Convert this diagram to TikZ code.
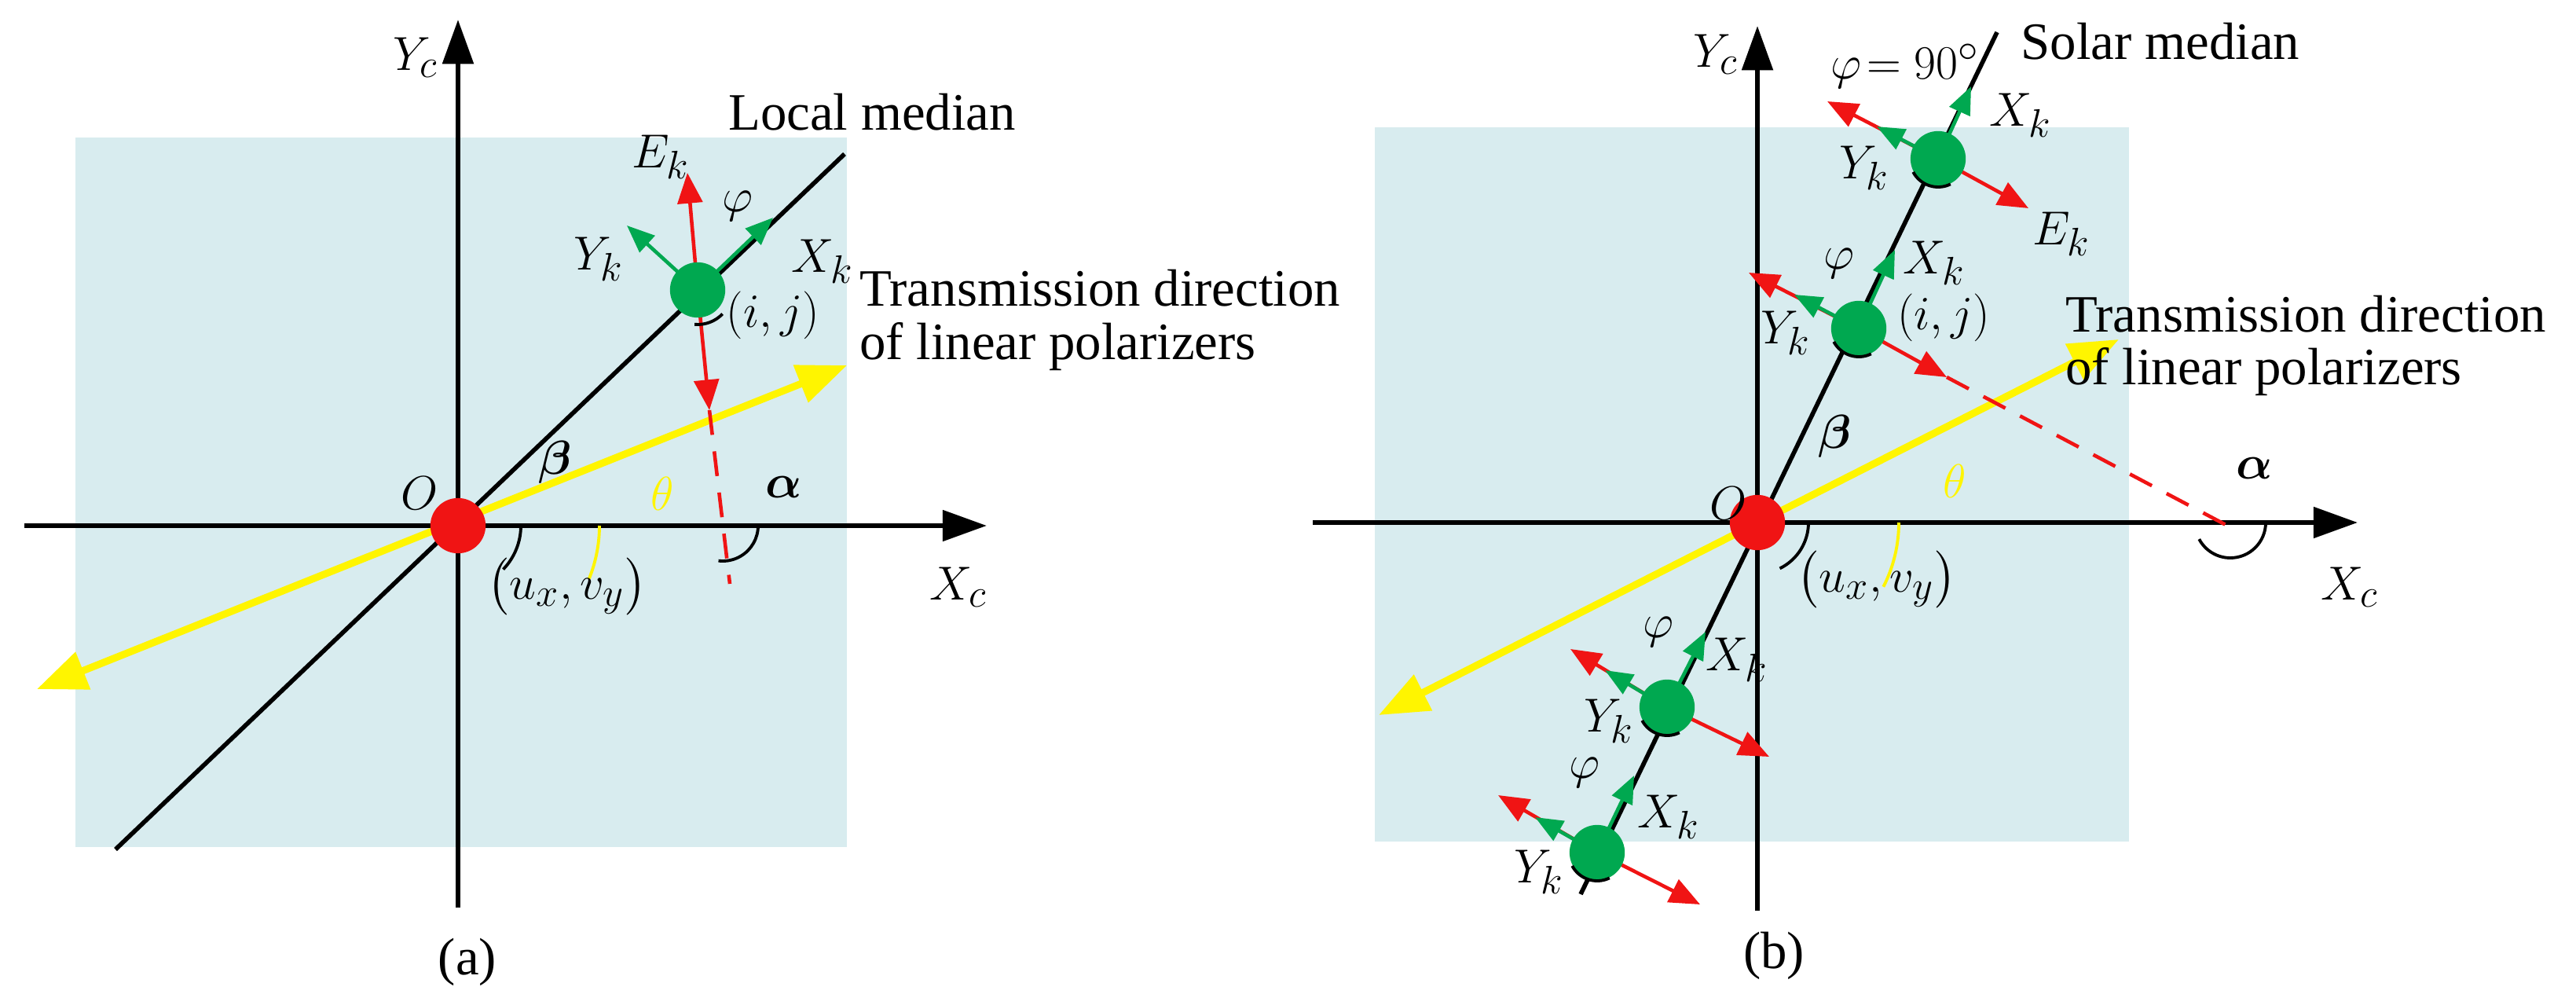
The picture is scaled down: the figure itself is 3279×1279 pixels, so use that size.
\documentclass[tikz,border=0pt]{standalone}
\usepackage{amsmath}
\usepackage{fontspec}
\setmainfont{Liberation Serif}
\usetikzlibrary{arrows.meta}
\definecolor{bgblue}{RGB}{216,236,239}
\definecolor{gr}{RGB}{0,168,80}
\definecolor{rd}{RGB}{240,20,20}
\definecolor{yl}{RGB}{255,245,0}
\begin{document}
\begin{tikzpicture}[x=0.01cm,y=-0.01cm,
  ax/.style={line width=1.8pt,-{Triangle[length=16pt,width=11pt]}},
  med/.style={line width=1.6pt},
  yel/.style={line width=2.6pt,color=yl,{Triangle[length=18pt,width=14pt]}-{Triangle[length=18pt,width=14pt]}},
  red/.style={line width=1.3pt,color=rd,-{Triangle[length=11pt,width=9pt]}},
  grn/.style={line width=1.3pt,color=gr,-{Triangle[length=10pt,width=8pt]}},
  dsh/.style={line width=1.3pt,color=rd,dash pattern=on 9pt off 6pt},
  arc/.style={line width=1.1pt},
  lbl/.style={font=\fontsize{19}{22}\selectfont,inner sep=1pt},
  dot/.style={circle,inner sep=0pt,minimum size=20pt}]
\useasboundingbox (0,0) rectangle (3279,1279);
% ---------- panel (a)
\fill[bgblue] (96,175) rectangle (1078,1078);
\coordinate (yb) at (583,1155); \coordinate (yt) at (583,25);
\coordinate (xl) at (31,669); \coordinate (xr) at (1256,669);
\draw[ax] (yb) -- (yt);
\draw[ax] (xl) -- (xr);
\coordinate (O) at (583,669);
\coordinate (m1) at (147,1081); \coordinate (m2) at (1075,196);
\draw[med] (m1) -- (m2);
\coordinate (P) at (888,369);
\coordinate (ya1) at (47,877); \coordinate (ya2) at (1078,465);
\draw[yel] (ya1) -- (ya2);
\coordinate (Et) at (875,220); \coordinate (Eb) at (903,522); \coordinate (Ed) at (929,743);
\draw[red] (P) -- (Et);
\draw[red] (P) -- (Eb);
\draw[dsh] (Eb) -- (Ed);
\coordinate (Xt) at (984,277); \coordinate (Yt) at (798,287);
\draw[grn] (P) -- (Xt);
\draw[grn] (P) -- (Yt);
\node[dot,fill=gr] (Pn) at (P) {};
\node[dot,fill=rd] (On) at (O) {};
\draw[arc] (663,669) arc[start angle=0,end angle=44,radius=80];
\draw[arc,yl] (763,669) arc[start angle=0,end angle=22,radius=180];
\draw[arc] (965,669) arc[start angle=0,end angle=97,radius=45];
\draw[arc] (P) ++(95:44) arc[start angle=95,end angle=44,radius=44];
\node[lbl] (ayc) at (529,73) {$Y_c$};
\node[lbl] (alm) at (1110,143) {Local median};
\node[lbl] (aek) at (841,200) {$E_k$};
\node[lbl] (aph) at (939,262) {$\varphi$};
\node[lbl] (ayk) at (762,330) {$Y_k$};
\node[lbl] (axk) at (1047,333) {$X_k$};
\node[lbl] (aij) at (984,401) {$(i,j)$};
\node[lbl,anchor=west] (atr) at (1090,367) {Transmission direction};
\node[lbl,anchor=west] (alp) at (1090,441) {of linear polarizers};
\node[lbl] (abe) at (707,588) {$\boldsymbol{\beta}$};
\node[lbl,text=yl] (ath) at (843,628) {$\theta$};
\node[lbl] (aal) at (998,620) {$\boldsymbol{\alpha}$};
\node[lbl] (aO) at (534,628) {$O$};
\node[lbl] (auv) at (722,747) {$\bigl(u_x,v_y\bigr)$};
\node[lbl] (axc) at (1220,747) {$X_c$};
\node[lbl] (acap) at (595,1224) {(a)};
% ---------- panel (b)
\fill[bgblue] (1750,162) rectangle (2710,1071);
\coordinate (byb) at (2237,1159); \coordinate (byt) at (2237,33);
\coordinate (bxl) at (1671,665); \coordinate (bxr) at (3001,665);
\draw[ax] (byb) -- (byt);
\draw[ax] (bxl) -- (bxr);
\coordinate (bO) at (2237,665);
\coordinate (s1) at (2012,1138); \coordinate (s2) at (2542,41);
\draw[med] (s1) -- (s2);
\coordinate (by1) at (1755,910); \coordinate (by2) at (2697,432);
\draw[yel] (by1) -- (by2);
% top point
\coordinate (Q1) at (2467,202);
\draw[red] (Q1) -- (2326,129); \draw[red] (Q1) -- (2582,265);
\draw[grn] (Q1) -- (2509,110); \draw[grn] (Q1) -- (2389,161);
% (i,j)
\coordinate (Q2) at (2366,418);
\coordinate (Q2e) at (2478,480); \coordinate (Q2d) at (2839,671);
\draw[red] (Q2) -- (2226,347); \draw[red] (Q2) -- (Q2e);
\draw[dsh] (Q2e) -- (Q2d);
\draw[grn] (Q2) -- (2412,318); \draw[grn] (Q2) -- (2284,375);
% lower 1
\coordinate (Q3) at (2122,900);
\draw[red] (Q3) -- (1999,826); \draw[red] (Q3) -- (2252,963);
\draw[grn] (Q3) -- (2171,804); \draw[grn] (Q3) -- (2043,853);
% lower 2
\coordinate (Q4) at (2033,1085);
\draw[red] (Q4) -- (1907,1012); \draw[red] (Q4) -- (2164,1151);
\draw[grn] (Q4) -- (2080,987); \draw[grn] (Q4) -- (1954,1040);
\foreach \q in {Q1,Q2,Q3,Q4}{
  \node[dot,fill=gr] at (\q) {};
  \draw[arc] (\q) ++(152:36) arc[start angle=152,end angle=64,radius=36];
}
\node[dot,fill=rd] (bOn) at (bO) {};
\draw[arc] (2302,665) arc[start angle=0,end angle=64,radius=65];
\draw[arc,yl] (2417,665) arc[start angle=0,end angle=27,radius=180];
\draw[arc] (2884,665) arc[start angle=0,end angle=152,radius=45];
\node[lbl] (byc) at (2184,69) {$Y_c$};
\node[lbl] (bsm) at (2750,53) {Solar median};
\node[lbl] (bp9) at (2425,84) {$\varphi\!=90^\circ$};
\node[lbl] (bx1) at (2572,147) {$X_k$};
\node[lbl] (by1l) at (2373,214) {$Y_k$};
\node[lbl] (bek) at (2624,298) {$E_k$};
\node[lbl] (bp2) at (2341,335) {$\varphi$};
\node[lbl] (bx2) at (2462,335) {$X_k$};
\node[lbl] (by2l) at (2273,424) {$Y_k$};
\node[lbl] (bij) at (2474,404) {$(i,j)$};
\node[lbl,anchor=west] (btr) at (2625,400) {Transmission direction};
\node[lbl,anchor=west] (blp) at (2625,473) {of linear polarizers};
\node[lbl] (bbe) at (2336,555) {$\boldsymbol{\beta}$};
\node[lbl,text=yl] (bth) at (2488,612) {$\theta$};
\node[lbl] (bal) at (2870,596) {$\boldsymbol{\alpha}$};
\node[lbl] (bOl) at (2200,641) {$O$};
\node[lbl] (buv) at (2389,738) {$\bigl(u_x,v_y\bigr)$};
\node[lbl] (bxc) at (2991,747) {$X_c$};
\node[lbl] (bp3) at (2111,804) {$\varphi$};
\node[lbl] (bx3) at (2211,840) {$X_k$};
\node[lbl] (by3l) at (2048,918) {$Y_k$};
\node[lbl] (bp4) at (2017,983) {$\varphi$};
\node[lbl] (bx4) at (2124,1040) {$X_k$};
\node[lbl] (by4l) at (1959,1110) {$Y_k$};
\node[lbl] (bcap) at (2258,1216) {(b)};
\end{tikzpicture}
\end{document}
